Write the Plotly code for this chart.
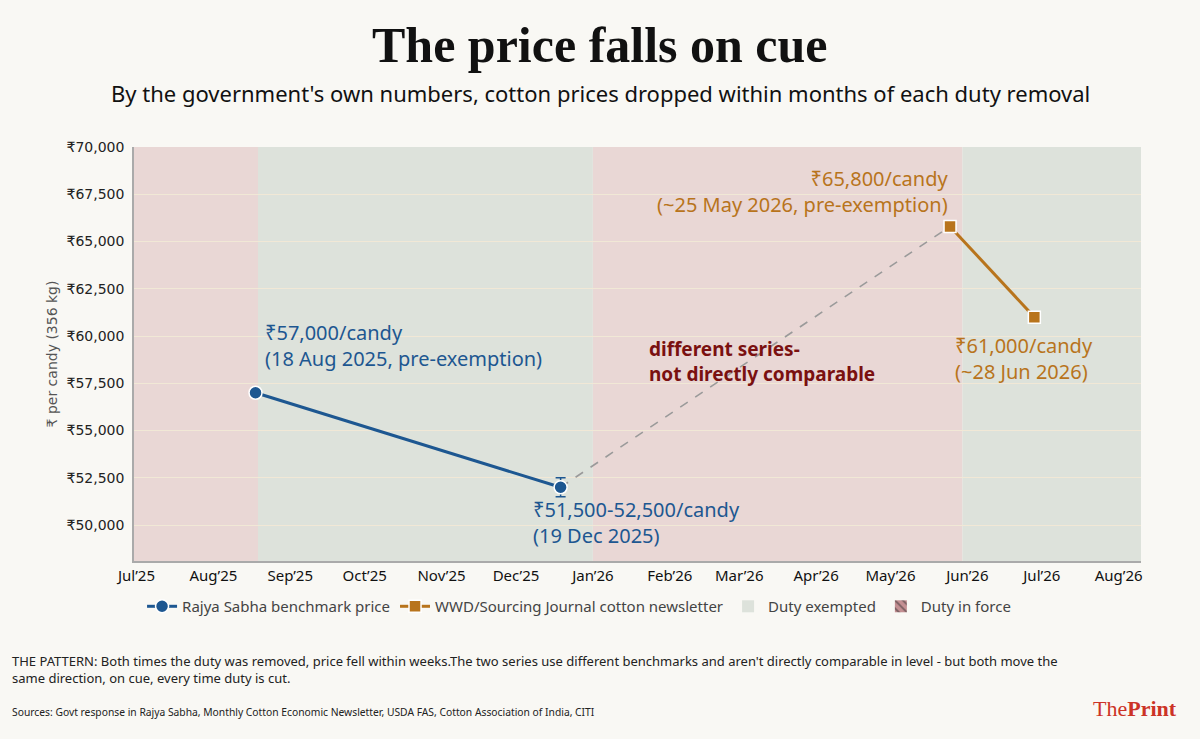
import plotly.graph_objects as go

# Rajya Sabha benchmark series
rs_dates = ["2025-08-18", "2025-12-19"]
rs_prices = [57000, 52000]
rs_err = [0, 500]

# WWD / Sourcing Journal newsletter series
wwd_dates = ["2026-05-25", "2026-06-28"]
wwd_prices = [65800, 61000]

# duty periods
force_periods = [("2025-06-01", "2025-08-19"), ("2026-01-01", "2026-05-30")]
exempt_periods = [("2025-08-19", "2026-01-01"), ("2026-05-30", "2026-09-30")]

y_ticks = [50000, 52500, 55000, 57500, 60000, 62500, 65000, 67500, 70000]
y_labels = ["₹50,000", "₹52,500", "₹55,000", "₹57,500", "₹60,000",
            "₹62,500", "₹65,000", "₹67,500", "₹70,000"]

BLUE = "#1d5791"
ORANGE = "#b8741c"
BG = "#f9f8f4"
RED_SHADE = "#e9d7d5"
GREEN_SHADE = "#dde2db"
FONT = "Noto Sans"

fig = go.Figure()

# dashed link between the two (not comparable) series
fig.add_trace(go.Scatter(
    x=[rs_dates[-1], wwd_dates[0]], y=[rs_prices[-1], wwd_prices[0]],
    mode="lines", line=dict(color="#9a9a9a", width=1.6, dash="dash"),
    showlegend=False, hoverinfo="skip"))

fig.add_trace(go.Scatter(
    x=rs_dates, y=rs_prices, mode="lines+markers",
    name="Rajya Sabha benchmark price",
    line=dict(color=BLUE, width=3),
    marker=dict(symbol="circle", size=13, color=BLUE, line=dict(color="white", width=1.5)),
    error_y=dict(type="data", array=rs_err, visible=True, color=BLUE, thickness=1.5, width=5)))

fig.add_trace(go.Scatter(
    x=wwd_dates, y=wwd_prices, mode="lines+markers",
    name="WWD/Sourcing Journal cotton newsletter",
    line=dict(color=ORANGE, width=3),
    marker=dict(symbol="square", size=12, color=ORANGE, line=dict(color="white", width=1.5))))

# legend-only entries for shaded periods
fig.add_trace(go.Bar(x=[None], y=[None], name="Duty exempted",
                     marker=dict(color=GREEN_SHADE, line=dict(width=0))))
fig.add_trace(go.Bar(x=[None], y=[None], name="Duty in force",
                     marker=dict(color="#c48f92", line=dict(width=0),
                                 pattern=dict(shape="\\", fgcolor="#2a2a2a", size=7, solidity=0.3))))

for x0, x1 in force_periods:
    fig.add_shape(type="rect", xref="x", yref="paper", x0=x0, x1=x1, y0=0, y1=1,
                  fillcolor=RED_SHADE, line=dict(width=0), layer="below")
for x0, x1 in exempt_periods:
    fig.add_shape(type="rect", xref="x", yref="paper", x0=x0, x1=x1, y0=0, y1=1,
                  fillcolor=GREEN_SHADE, line=dict(width=0), layer="below")

def note(x, y, text, color, size=20, xanchor="left", align="left"):
    fig.add_annotation(x=x, y=y, xanchor=xanchor, yanchor="middle", align=align,
                       text=text, showarrow=False,
                       font=dict(family=FONT, size=size, color=color))

note("2025-08-21", 59500, "₹57,000/candy<br>(18 Aug 2025, pre-exemption)", BLUE)
note("2025-12-07", 50150, "₹51,500-52,500/candy<br>(19 Dec 2025)", BLUE)
note("2026-05-25", 67650, "₹65,800/candy<br>(~25 May 2026, pre-exemption)", ORANGE,
     xanchor="right", align="right")
note("2026-05-26", 58800, "₹61,000/candy<br>(~28 Jun 2026)", ORANGE)
note("2026-01-23", 58650, "<b>different series-<br>not directly comparable</b>", "#7a1010", size=19)

# titles and footer (page centre is x=0.463 in plot-paper units)
fig.add_annotation(xref="paper", yref="paper", x=0.463, y=1.0, yshift=102, yanchor="middle",
                   text="<b>The price falls on cue</b>", showarrow=False,
                   font=dict(family="Liberation Serif", size=50, color="#111"))
fig.add_annotation(xref="paper", yref="paper", x=0.463, y=1.0, yshift=54, yanchor="middle",
                   text="By the government's own numbers, cotton prices dropped within months of each duty removal",
                   showarrow=False, font=dict(family=FONT, size=22, color="#111"))
fig.add_annotation(xref="paper", yref="paper", x=-0.123, y=0, yshift=-108, xanchor="left", yanchor="middle",
                   align="left",
                   text="THE PATTERN: Both times the duty was removed, price fell within weeks.The two series use different benchmarks and aren't directly comparable in level - but both move the<br>same direction, on cue, every time duty is cut.",
                   showarrow=False, font=dict(family=FONT, size=13, color="#222"))
fig.add_annotation(xref="paper", yref="paper", x=-0.123, y=0, yshift=-151, xanchor="left", yanchor="middle",
                   text="Sources: Govt response in Rajya Sabha, Monthly Cotton Economic Newsletter, USDA FAS, Cotton Association of India, CITI",
                   showarrow=False, font=dict(family=FONT, size=10.3, color="#222"))
fig.add_annotation(xref="paper", yref="paper", x=1.038, y=0, yshift=-147, xanchor="right", yanchor="middle",
                   text="The<b>Print</b>", showarrow=False,
                   font=dict(family="Liberation Serif", size=22, color="#cc3326"))

fig.update_layout(
    width=1200, height=739,
    paper_bgcolor=BG, plot_bgcolor=BG,
    margin=dict(l=134, r=59, t=147, b=178),
    font=dict(family=FONT, color="#222"),
    legend=dict(orientation="h", x=0.008, xanchor="left", y=-0.11, yanchor="middle",
                font=dict(family=FONT, size=15, color="#444"), bgcolor="rgba(0,0,0,0)",
                traceorder="normal"),
    showlegend=True,
)
fig.update_xaxes(
    type="date", range=["2025-06-30", "2026-08-10"],
    dtick="M1", tick0="2025-07-01", tickformat="%b’%y",
    showgrid=False, zeroline=False,
    showline=True, linecolor="#aaaaaa", linewidth=1.5,
    ticks="", tickfont=dict(family=FONT, size=15, color="#111"))
fig.update_yaxes(
    range=[48100, 70000], tickvals=y_ticks, ticktext=y_labels,
    showgrid=True, gridcolor="#f1e8d6", gridwidth=1, zeroline=False,
    showline=True, linecolor="#aaaaaa", linewidth=1.5, ticklabelstandoff=5,
    tickfont=dict(family="DejaVu Sans", size=14, color="#222"),
    title=dict(text="₹ per candy (356 kg)", font=dict(family="DejaVu Sans", size=14, color="#555"), standoff=6))

fig.write_html("out.html", config={"displayModeBar": False},
               post_script="document.body.style.margin='0';")
